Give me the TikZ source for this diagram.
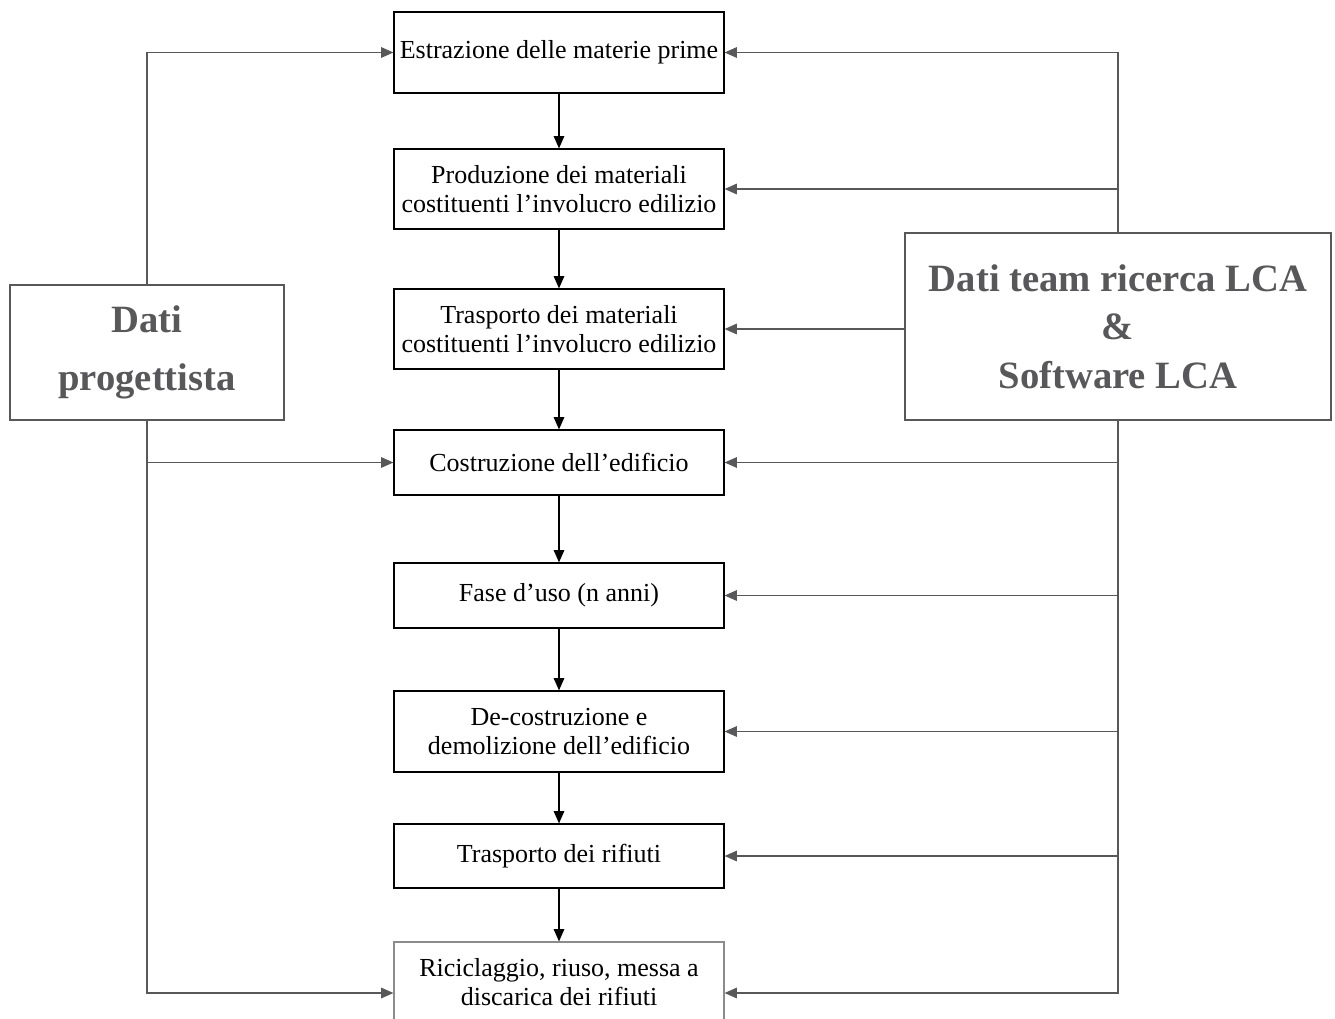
\documentclass[tikz,border=0pt]{standalone}
\usepackage{fontspec}
\setmainfont{Liberation Serif}
\usepackage{tikz}
\usetikzlibrary{arrows.meta}
\definecolor{sidegray}{RGB}{88,88,90}
\definecolor{lastgray}{RGB}{140,140,140}
\tikzset{stepbox/.style={draw=black, line width=.7pt, minimum width=6.6cm, align=center, font=\fontsize{14.8}{16.5}\selectfont, inner sep=1pt},
 databox/.style={draw=sidegray, line width=.8pt, align=center, text=sidegray},
 flow/.style={black, line width=.7pt, -{Triangle[length=7pt, width=6pt]}},
 side/.style={sidegray, line width=.8pt, -{Triangle[length=7pt, width=6pt]}}}

\begin{document}
\begin{tikzpicture}  [x=.02cm, y=-.02cm]
\clip (0,0) rectangle (1335,1018);
\node[stepbox, minimum height=1.62cm] (e1) at (559,52.5) {Estrazione delle materie prime};
\node[stepbox, minimum height=1.6cm] (e2) at (559,189) {Produzione dei materiali\\costituenti l'involucro edilizio};
\node[stepbox, minimum height=1.6cm] (e3) at (559,329) {Trasporto dei materiali\\costituenti l'involucro edilizio};
\node[stepbox, minimum height=1.3cm] (e4) at (559,462.5) {Costruzione dell'edificio};
\node[stepbox, minimum height=1.3cm] (e5) at (559,595.5) {Fase d'uso (n anni)};
\node[stepbox, minimum height=1.62cm] (e6) at (559,731.5) {De-costruzione e\\demolizione dell'edificio};
\node[stepbox, minimum height=1.28cm] (e7) at (559,856) {Trasporto dei rifiuti};
\node[stepbox, draw=lastgray, minimum height=1.6cm] (e8) at (559,982) {Riciclaggio, riuso, messa a\\discarica dei rifiuti};
\node[databox, minimum width=5.48cm, minimum height=2.7cm, font=\fontsize{22}{33}\selectfont\bfseries] (dp) at (147,352.5) {Dati\\progettista};
\node[databox, minimum width=8.52cm, minimum height=3.74cm, font=\fontsize{22}{27.5}\selectfont\bfseries] (dt) at (1118,326.5) {Dati team ricerca LCA\\\&\\Software LCA};
\foreach \a/\b in {e1/e2,e2/e3,e3/e4,e4/e5,e5/e6,e6/e7,e7/e8} \draw[flow] (\a.south) -- (\b.north);
\draw[side] (dp.north) |- (e1.west);
\draw[side] (dp.south) |- ([yshift=-.22cm]e8.west);
\draw[side] (dp.south |- e4.west) -- (e4.west);
\draw[side] (dt.north) |- (e1.east);
\draw[side] (dt.north |- e2.east) -- (e2.east);
\draw[side] (dt.west |- e3.east) -- (e3.east);
\draw[side] (dt.south) |- ([yshift=-.22cm]e8.east);
\foreach \s in {e4,e5,e6,e7} \draw[side] (dt.south |- \s.east) -- (\s.east);
\end{tikzpicture}
\end{document}
